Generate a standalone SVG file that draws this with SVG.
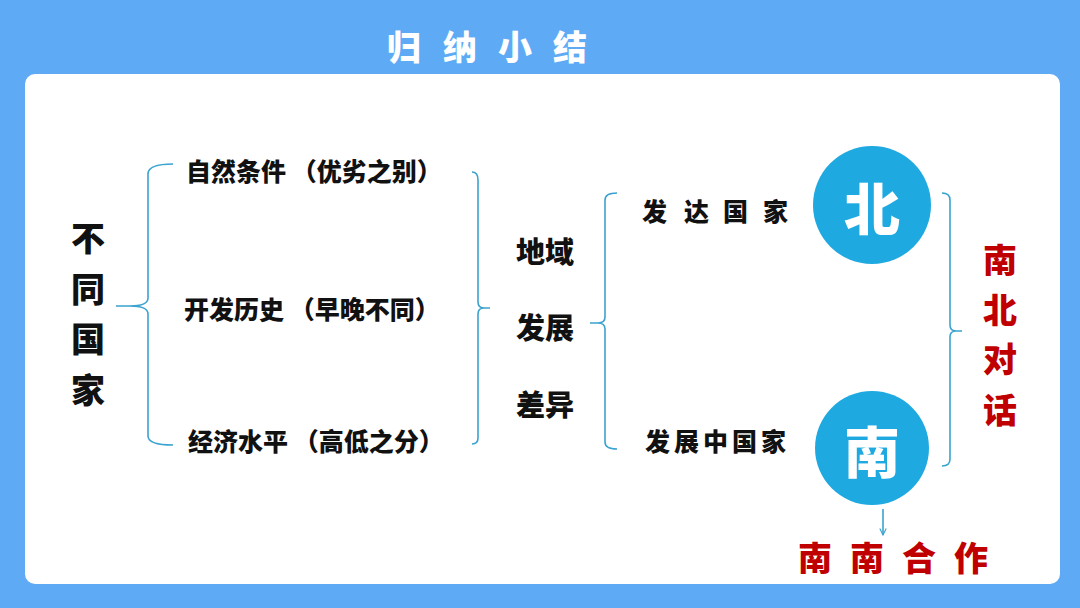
<svg xmlns="http://www.w3.org/2000/svg" width="1080" height="608" viewBox="0 0 1080 608">
<defs>
<style>
.t{font-family:"Noto Sans CJK SC","Noto Sans",sans-serif;font-weight:900;dominant-baseline:central}
.k{fill:#111}
.r{fill:#c00000}
.w{fill:#fff}
.br{fill:none;stroke:#3aa3cf;stroke-width:1.6}
</style>
<marker id="ah" viewBox="0 0 10 10" refX="9" refY="5" markerWidth="8" markerHeight="8" orient="auto" markerUnits="userSpaceOnUse">
<path d="M1,1 L9,5 L1,9" fill="none" stroke="#3aa3cf" stroke-width="1.4"/>
</marker>
</defs>
<rect width="1080" height="608" fill="#5eaaf5"/>
<rect x="25" y="74" width="1035" height="510" rx="10" fill="#fff"/>
<g id="title"><text class="t w" x="387 443 498 553" y="45" font-size="34">归纳小结</text></g>

<g id="connectors">
<path class="br" d="M173,164 Q148,164 148,174 L148,298 Q148,306 130,306 L116,306 L130,306 Q148,306 148,314 L148,436 Q148,445 173,445"/>
<path class="br" d="M472,172 Q478,172 478,180 L478,302 Q478,308 484,308 L490,308 L484,308 Q478,308 478,314 L478,438 Q478,444 472,444"/>
<path class="br" d="M617,193 Q605,193 605,200 L605,317 Q605,323 598,323 L590,323 L598,323 Q605,323 605,329 L605,442 Q605,449 617,449"/>
<path class="br" d="M942,193 Q950,193 950,200 L950,325 Q950,331 956,331 L962,331 L956,331 Q950,331 950,337 L950,459 Q950,466 942,466"/>
<line class="br" x1="883" y1="509" x2="883" y2="535" marker-end="url(#ah)"/>
</g>

<g id="n-countries"><text class="t k" font-size="34" text-anchor="middle"><tspan x="88" y="236">不</tspan><tspan x="88" y="287">同</tspan><tspan x="88" y="337">国</tspan><tspan x="88" y="388">家</tspan></text></g>

<g id="n-nature"><text class="t k" x="186" y="170" font-size="25">自然条件 （优劣之别）</text></g>
<g id="n-history"><text class="t k" x="184" y="308" font-size="25">开发历史 （早晚不同）</text></g>
<g id="n-economy"><text class="t k" x="188" y="440" font-size="25">经济水平 （高低之分）</text></g>

<g id="n-diff"><text class="t k" font-size="29" text-anchor="middle"><tspan x="545" y="250">地域</tspan><tspan x="545" y="326">发展</tspan><tspan x="545" y="403">差异</tspan></text></g>

<g id="n-developed"><text class="t k" x="642 684 723 763" y="210" font-size="25">发达国家</text></g>
<g id="n-developing"><text class="t k" x="645" y="440" font-size="25" letter-spacing="4">发展中国家</text></g>

<g id="n-north"><circle cx="872" cy="205" r="59" fill="#1ea9e1"/><text class="t w" x="872" y="205" font-size="56" text-anchor="middle">北</text></g>
<g id="n-south"><circle cx="872" cy="448" r="57" fill="#1ea9e1"/><text class="t w" x="872" y="448" font-size="56" text-anchor="middle">南</text></g>

<g id="n-ns"><text class="t r" font-size="34" text-anchor="middle"><tspan x="1000" y="258">南</tspan><tspan x="1000" y="308">北</tspan><tspan x="1000" y="357">对</tspan><tspan x="1000" y="408">话</tspan></text></g>
<g id="n-ss"><text class="t r" x="798 850 902 954" y="556" font-size="34">南南合作</text></g>
</svg>
